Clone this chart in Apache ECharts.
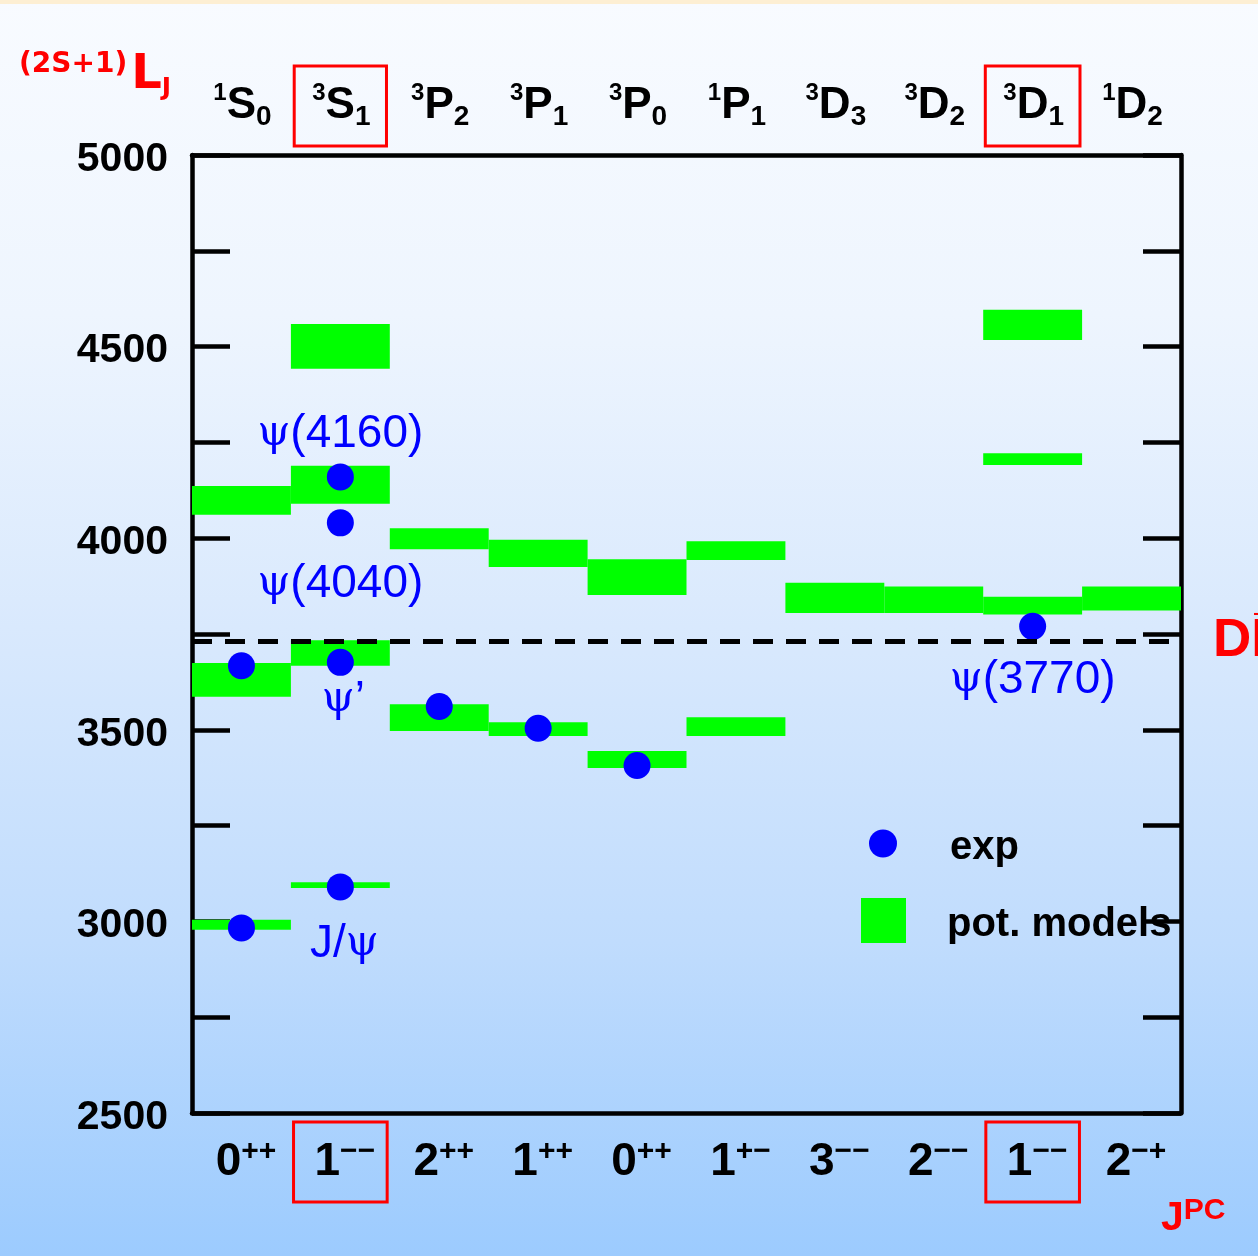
<!DOCTYPE html>
<html>
<head>
<meta charset="utf-8">
<script src="https://cdn.jsdelivr.net/npm/echarts@6/dist/echarts.min.js"></script>
<style>
  html, body { margin: 0; padding: 0; }
  body {
    width: 1258px; height: 1256px; overflow: hidden;
    background: linear-gradient(to bottom, #f8fbff 0%, #eef5fe 25%, #d9e9fd 50%, #c0dcfd 75%, #9ccbfe 100%);
  }
  #strip { position: absolute; left: 0; top: 0; width: 1258px; height: 4px; background: #fdefd3; }
  #chart { position: absolute; left: 0; top: 0; width: 1258px; height: 1256px; }
</style>
</head>
<body>
<div id="chart"></div>
<div id="strip"></div>
<script>
// Charmonium states: one column per spectroscopic term (2S+1)L_J
const multiplicity = [1, 3, 3, 3, 3, 1, 3, 3, 3, 1];
const orbital      = ['S', 'S', 'P', 'P', 'P', 'P', 'D', 'D', 'D', 'D'];
const totalJ       = [0, 1, 2, 1, 0, 1, 3, 2, 1, 2];
const pcParity     = ['++', '−−', '++', '++', '++', '+−', '−−', '−−', '−−', '−+'];
const vectorColumns = [1, 8];   // the two 1−− columns

// Potential-model predictions: column, lower and upper mass (MeV)
const modelState = [0, 0, 0, 1, 1, 1, 1, 2, 2, 3, 3, 4, 4, 5, 5, 6, 7, 8, 8, 8, 9];
const modelLow   = [2978, 3586, 4061, 3087, 3667, 4090, 4442, 3497, 3971, 3484, 3925, 3400, 3852, 3484, 3943, 3805, 3805, 3801, 4191, 4517, 3811];
const modelHigh  = [3004, 3674, 4136, 3102, 3734, 4189, 4559, 3567, 4026, 3520, 3996, 3445, 3945, 3533, 3992, 3884, 3874, 3847, 4222, 4596, 3874];

// Measured states: column, mass (MeV), name
const expState = [0, 0, 1, 1, 1, 1, 2, 3, 4, 8];
const expMass  = [2983, 3667, 3090, 3676, 4040, 4160, 3561, 3504, 3407, 3770];
const expName  = ['', '', 'J/ψ', 'ψ’', 'ψ(4040)', 'ψ(4160)', '', '', '', 'ψ(3770)'];

// Mass axis and open-charm threshold
const massMin = 2500, massMax = 5000, massStep = 250, massLabelStep = 500;
const ddThreshold = 3730;

const GREEN = '#00ff00', BLUE = '#0000ff', RED = '#ff0000';
const FONT = '"Liberation Sans", Arial, sans-serif';
const DEJAVU = '"DejaVu Sans", sans-serif';

// where each named resonance puts its caption relative to its dot
const captionOffset = {
  'J/ψ': [4, 57],
  'ψ’': [3, 38],
  'ψ(4040)': [0, 61],
  'ψ(4160)': [0, -43],
  'ψ(3770)': [0, 54]
};

// ψ is set in a serif face, the rest of the caption in sans
function captionText(name) {
  return name.split('ψ').map(part => (part ? '{t|' + part + '}' : '')).join('{p|ψ}');
}

const columns = multiplicity.map((_, i) => String(i));
const columnData = columns.map((c, i) => vectorColumns.includes(i)
  ? { value: c, textStyle: { borderColor: RED, borderWidth: 3 } }
  : c);

const modelData = modelState.map((s, i) => [s, modelLow[i], modelHigh[i]]);
const expData = expState.map((s, i) => {
  const item = { value: [s, expMass[i]], name: expName[i] };
  if (expName[i]) {
    item.label = {
      show: true,
      formatter: () => captionText(expName[i]),
      offset: captionOffset[expName[i]]
    };
  }
  return item;
});

const axisLineStyle = { color: '#000', width: 4.5 };

const chart = echarts.init(document.getElementById('chart'), null, { renderer: 'canvas' });
chart.setOption({
  backgroundColor: 'transparent',
  animation: false,
  textStyle: { fontFamily: FONT },
  grid: { left: 192, right: 77, top: 155, bottom: 143 },
  legend: [
    {
      data: [{ name: 'exp', icon: 'circle', itemStyle: { color: BLUE, opacity: 1 } }],
      left: 864, top: 814, itemWidth: 28, itemHeight: 28,
      selectedMode: false,
      formatter: n => '{t|' + n + '}',
      textStyle: {
        padding: [0, 0, 0, 48],
        rich: { t: { fontFamily: FONT, fontWeight: 'bold', fontSize: 40, color: '#000', lineHeight: 44, padding: [9, 0, 0, 0] } }
      }
    },
    {
      data: [{ name: 'pot. models', icon: 'rect', itemStyle: { color: GREEN } }],
      left: 856, top: 891, itemWidth: 45, itemHeight: 45,
      selectedMode: false,
      formatter: n => '{t|' + n + '}',
      textStyle: {
        padding: [0, 0, 0, 36],
        rich: { t: { fontFamily: FONT, fontWeight: 'bold', fontSize: 40, color: '#000', lineHeight: 44, padding: [9, 0, 0, 0] } }
      }
    }
  ],
  xAxis: [
    {
      type: 'category', data: columnData, position: 'bottom', boundaryGap: true,
      axisLine: { lineStyle: axisLineStyle },
      axisTick: { inside: true, length: 36, lineStyle: { width: 4.5, color: '#000' } },
      axisLabel: {
        interval: 0, margin: 9, padding: [15, 12, 15, 21],
        formatter: (v, i) => '{n|' + totalJ[i] + '}{s|' + pcParity[i] + '}',
        rich: {
          n: { fontFamily: FONT, fontWeight: 'bold', fontSize: 46, lineHeight: 50, color: '#000' },
          s: { fontFamily: FONT, fontWeight: 'bold', fontSize: 30, lineHeight: 22, verticalAlign: 'top', color: '#000' }
        }
      }
    },
    {
      type: 'category', data: columnData, position: 'top', boundaryGap: true,
      axisLine: { lineStyle: axisLineStyle },
      axisTick: { inside: true, length: 37, lineStyle: { width: 4.5, color: '#000' } },
      axisLabel: {
        interval: 0, margin: 9, padding: [15, 16, 15, 18],
        formatter: (v, i) => '{u|' + multiplicity[i] + '}{m|' + orbital[i] + '}{d|' + totalJ[i] + '}',
        rich: {
          u: { fontFamily: FONT, fontWeight: 'bold', fontSize: 24, lineHeight: 24, verticalAlign: 'top', color: '#000' },
          m: { fontFamily: FONT, fontWeight: 'bold', fontSize: 44, lineHeight: 50, color: '#000' },
          d: { fontFamily: FONT, fontWeight: 'bold', fontSize: 28, lineHeight: 18, verticalAlign: 'bottom', color: '#000' }
        }
      }
    }
  ],
  yAxis: [
    {
      type: 'value', min: massMin, max: massMax, interval: massStep, position: 'left',
      axisLine: { show: true, lineStyle: axisLineStyle },
      axisTick: { show: true, inside: true, length: 38, lineStyle: { width: 4.5, color: '#000' } },
      axisLabel: {
        margin: 24,
        formatter: v => (v % massLabelStep === 0 ? '{v|' + v + '}' : ''),
        rich: {
          v: { fontFamily: FONT, fontWeight: 'bold', fontSize: 41, lineHeight: 41, color: '#000', padding: [9, 0, 0, 0] }
        }
      },
      splitLine: { show: false }
    },
    {
      type: 'value', min: massMin, max: massMax, interval: massStep, position: 'right',
      axisLine: { show: true, lineStyle: axisLineStyle },
      axisTick: { show: true, inside: true, length: 38, lineStyle: { width: 4.5, color: '#000' } },
      axisLabel: { show: false },
      splitLine: { show: false }
    }
  ],
  series: [
    {
      name: 'pot. models',
      type: 'custom',
      xAxisIndex: 0, yAxisIndex: 0,
      itemStyle: { color: GREEN },
      encode: { x: 0, y: [1, 2] },
      data: modelData,
      renderItem: (params, api) => {
        const col = api.value(0);
        const top = api.coord([col, api.value(2)]);
        const bottom = api.coord([col, api.value(1)]);
        const w = api.size([1, 0])[0];
        return {
          type: 'rect',
          shape: { x: top[0] - w / 2, y: top[1], width: w, height: bottom[1] - top[1] },
          style: { fill: GREEN }
        };
      },
      z: 2
    },
    {
      name: 'exp',
      type: 'scatter',
      xAxisIndex: 0, yAxisIndex: 0,
      symbol: 'circle', symbolSize: 27,
      itemStyle: { color: BLUE, opacity: 1 },
      data: expData,
      label: {
        show: false, position: 'inside', color: BLUE, opacity: 1,
        rich: {
          p: { fontFamily: '"DejaVu Serif", "Liberation Serif", serif', fontSize: 42, color: BLUE },
          t: { fontFamily: FONT, fontSize: 46, color: BLUE }
        }
      },
      emphasis: { disabled: true },
      markLine: {
        silent: true, symbol: 'none',
        lineStyle: { color: '#000', width: 5, type: [20, 13] },
        label: {
          show: true, position: 'end', distance: 32, formatter: 'DD\u0305',
          fontFamily: FONT, fontWeight: 'bold', fontSize: 53, color: RED
        },
        data: [{ yAxis: ddThreshold }]
      },
      z: 3
    }
  ],
  graphic: [
    {
      type: 'text', left: 19, top: 51,
      style: {
        text: '{a|(2S+1)}{b|L}{c|J}',
        rich: {
          a: { fontFamily: DEJAVU, fontWeight: 'bold', fontSize: 28, lineHeight: 34, verticalAlign: 'top', fill: RED },
          b: { fontFamily: DEJAVU, fontWeight: 'bold', fontSize: 48, lineHeight: 50, fill: RED, padding: [0, 0, 0, 4] },
          c: { fontFamily: DEJAVU, fontWeight: 'bold', fontSize: 25, lineHeight: 14, verticalAlign: 'bottom', fill: RED }
        }
      }
    },
    {
      type: 'text', left: 1161, top: 1196,
      style: {
        text: '{j|J}{pc|PC}',
        rich: {
          j: { fontFamily: FONT, fontWeight: 'bold', fontSize: 41, lineHeight: 46, fill: RED },
          pc: { fontFamily: FONT, fontWeight: 'bold', fontSize: 30, lineHeight: 18, verticalAlign: 'top', fill: RED }
        }
      }
    }
  ]
});
</script>
</body>
</html>
